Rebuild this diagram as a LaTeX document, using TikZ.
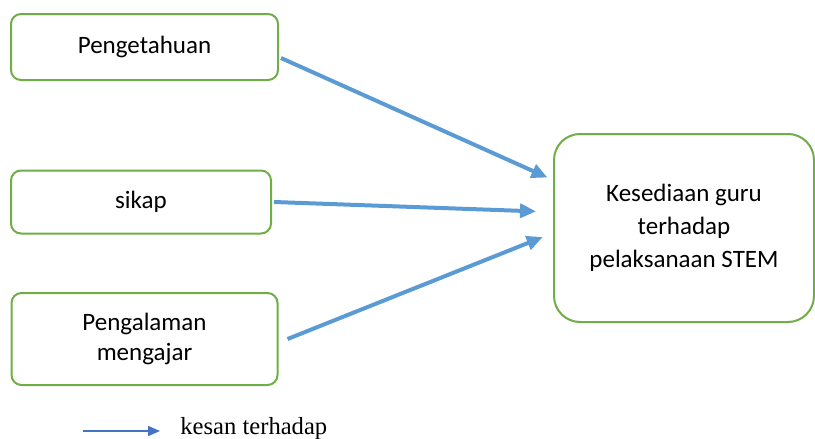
\documentclass[tikz,border=0pt]{standalone}
\usepackage{fontspec}
\setmainfont{Carlito}
\newfontfamily\legendfont{Liberation Serif}
\usetikzlibrary{calc, positioning, arrows.meta}

\definecolor{boxgreen}{RGB}{112,173,71}
\definecolor{arrowblue}{RGB}{91,155,213}
\definecolor{legendblue}{RGB}{68,114,196}

\begin{document}
\begin{tikzpicture}[x=0.5pt, y=-0.5pt,
            factor/.style={draw=boxgreen, line width=1pt, rounded corners=5pt,
                    align=center, font=\fontsize{12.5}{15}\selectfont},
            outcome/.style={factor, rounded corners=13pt, font=\fontsize{12.5}{16.5}\selectfont},
            effect/.style={draw=arrowblue, line width=2pt,
                    -{Triangle[length=8pt, width=7pt]}},
        ]

        \useasboundingbox (0,0) rectangle (815,439);

        \node[factor, minimum width=133.5pt, minimum height=33pt] (pengetahuan) at (144.5,47) {Pengetahuan};
        \node[factor, minimum width=130pt, minimum height=31.5pt] (sikap) at (141,202) {sikap};
        \node[factor, minimum width=133pt, minimum height=46pt] (pengalaman) at (144.5,339) {Pengalaman\\mengajar};
        \node[outcome, minimum width=130pt, minimum height=94pt] (kesediaan) at (684,228)
            {Kesediaan guru\\terhadap\\pelaksanaan STEM};

        \draw[effect, shorten >=3pt] ([xshift=1pt, yshift=-5.5pt]pengetahuan.east) -- ([yshift=24pt]kesediaan.west);
        \draw[effect, shorten >=8.5pt] ([xshift=1pt]sikap.east) -- ([yshift=8pt]kesediaan.west);
        \draw[effect, shorten >=5.5pt] ([xshift=4.5pt]pengalaman.east) -- ([yshift=-2.5pt]kesediaan.west);

        % legend
        \coordinate (legstart) at (83,431);
        \node[anchor=west, inner sep=0pt, font=\legendfont\fontsize{12.3}{14}\selectfont] (legtext) at (180,429) {kesan terhadap};
        \draw[draw=legendblue, line width=0.8pt, -{Triangle[length=6pt, width=5pt]}, shorten >=10pt] (legstart) -- (legstart -| legtext.west);

    \end{tikzpicture}
\end{document}
